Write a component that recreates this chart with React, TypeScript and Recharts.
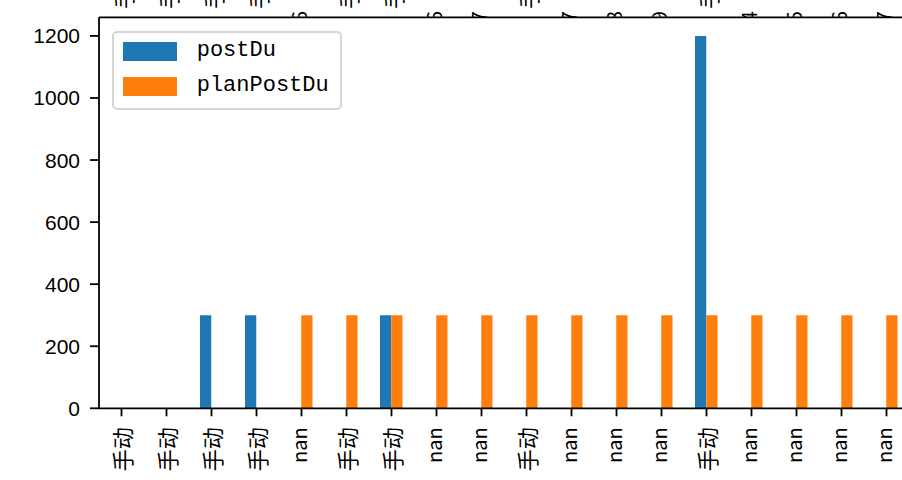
import React from 'react';
import { BarChart, Bar, XAxis, YAxis, Legend } from 'recharts';

const categories = ['手动', '手动', '手动', '手动', 'nan', '手动', '手动', 'nan', 'nan', '手动', 'nan', 'nan', 'nan', '手动', 'nan', 'nan', 'nan', 'nan'];
const topLabels = ['手动', '手动', '手动', '手动', '6', '手动', '手动', '6', '7', '手动', '7', '8', '9', '手动', '4', '5', '6', '7'];
const seriesNames = ['postDu', 'planPostDu'];
const postDu: (number | null)[] = [null, null, 300, 300, null, null, 300, null, null, null, null, null, null, 1200, null, null, null, null];
const planPostDu: (number | null)[] = [null, null, null, null, 300, 300, 300, 300, 300, 300, 300, 300, 300, 300, 300, 300, 300, 300];
const yTicks = [0, 200, 400, 600, 800, 1000, 1200];

const data = categories.map((c, i) => ({ i, postDu: postDu[i], planPostDu: planPostDu[i] }));

const BLUE = '#1f77b4';
const ORANGE = '#ff7f0e';
const isLatin = (s: string) => /^[\x00-\x7f]+$/.test(s);

const BottomTick = (props: any) => {
  const { x, y, payload } = props;
  const label = categories[payload.value] ?? '';
  const latin = isLatin(label);
  const ty = y + 11;
  return (
    <text
      x={x}
      y={ty}
      transform={`rotate(-90, ${x}, ${ty})`}
      textAnchor="end"
      dominantBaseline={latin ? 'middle' : 'central'}
      fontSize={latin ? 20 : 22}
      fontFamily="'Noto Sans CJK SC'"
      fill="#000"
    >
      {label}
    </text>
  );
};

const TopTick = (props: any) => {
  const { x, y, payload } = props;
  const label = topLabels[payload.value] ?? '';
  const latin = isLatin(label);
  const ty = latin ? y + 5 : y - 8.5;
  return (
    <svg x={x - 20} y={0} width={40} height={y} overflow="hidden">
      <text
        x={20}
        y={ty}
        transform={`rotate(-90, 20, ${ty})`}
        textAnchor="start"
        dominantBaseline={latin ? 'middle' : 'central'}
        fontSize={latin ? 20 : 22}
        fontFamily="'Noto Sans CJK SC'"
        fill="#000"
      >
        {label}
      </text>
    </svg>
  );
};

const renderLegend = (props: any) => {
  const payload = (props.payload || []) as any[];
  const items = seriesNames.map((n) => {
    const found = payload.find((p) => p.value === n || p.dataKey === n);
    return { value: n, color: found ? found.color : '#000' };
  });
  return (
    <div
      style={{
        position: 'relative',
        width: 230,
        height: 79,
        boxSizing: 'border-box',
        border: '2px solid #d6d6d6',
        borderRadius: 5,
        background: 'rgba(255,255,255,0.8)',
      }}
    >
      {items.map((it, k) => (
        <div key={k}>
          <div
            style={{
              position: 'absolute',
              left: 9,
              top: 9.3 + k * 34.7,
              width: 54,
              height: 18.5,
              background: it.color,
            }}
          />
          <div
            style={{
              position: 'absolute',
              left: 83,
              top: 9.3 + k * 34.7,
              height: 18.5,
              lineHeight: '18.5px',
              fontFamily: "'Liberation Mono'",
              fontSize: 22,
              color: '#000',
              whiteSpace: 'nowrap',
            }}
          >
            {it.value}
          </div>
        </div>
      ))}
    </div>
  );
};

export default function App() {
  return (
    <div
      style={{
        position: 'fixed',
        left: 0,
        top: 0,
        width: 902,
        height: 480,
        overflow: 'hidden',
        background: '#fff',
      }}
    >
      <BarChart
        width={920}
        height={480}
        data={data}
        margin={{ top: 0, right: 11, bottom: 0, left: 0 }}
        barGap={0}
        barSize={11.25}
      >
        <XAxis
          xAxisId="top"
          orientation="top"
          dataKey="i"
          type="category"
          height={17.3}
          interval={0}
          tickLine={false}
          tickSize={0}
          tickMargin={0}
          axisLine={{ stroke: '#000', strokeWidth: 1.8 }}
          tick={<TopTick />}
        />
        <XAxis
          dataKey="i"
          type="category"
          height={71.7}
          interval={0}
          tickSize={8}
          tickMargin={0}
          tickLine={{ stroke: '#000', strokeWidth: 1.8 }}
          axisLine={{ stroke: '#000', strokeWidth: 1.8 }}
          tick={<BottomTick />}
        />
        <YAxis
          width={99}
          domain={[0, 1260]}
          ticks={yTicks}
          type="number"
          allowDataOverflow
          tickSize={9}
          tickMargin={10}
          tickLine={{ stroke: '#000', strokeWidth: 1.8 }}
          axisLine={{ stroke: '#000', strokeWidth: 1.8 }}
          tick={{ fontSize: 21, fill: '#000', fontFamily: "'Liberation Sans'" }}
        />
        <Bar dataKey="postDu" name="postDu" fill={BLUE} isAnimationActive={false} />
        <Bar dataKey="planPostDu" name="planPostDu" fill={ORANGE} isAnimationActive={false} />
        <Legend
          layout="vertical"
          verticalAlign="middle"
          align="center"
          wrapperStyle={{ left: 111.7, top: 31, width: 230, height: 79 }}
          content={renderLegend}
        />
      </BarChart>
    </div>
  );
}
